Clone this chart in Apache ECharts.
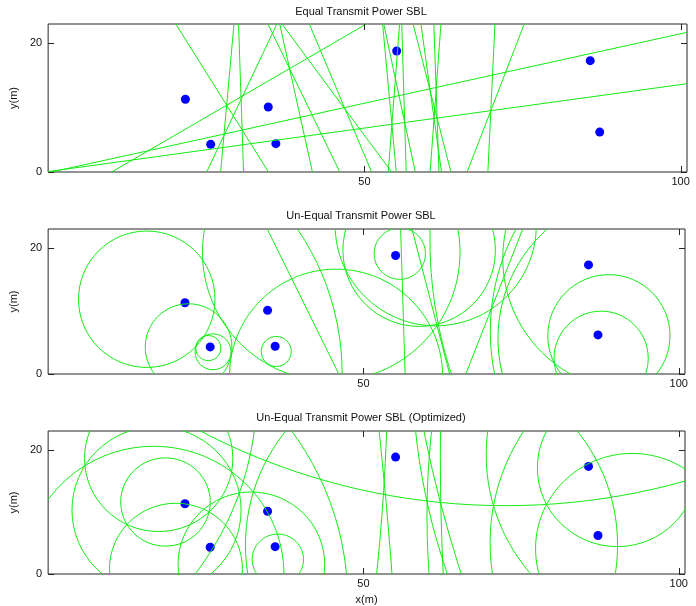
<!DOCTYPE html>
<html>
<head>
<meta charset="utf-8">
<script src="https://cdn.jsdelivr.net/npm/echarts/dist/echarts.min.js"></script>
<style>
  html, body { margin: 0; padding: 0; background: #ffffff; }
  #chart { width: 696px; height: 606px; }
</style>
</head>
<body>
<div id="chart"></div>
<script>
// ---- reference nodes (blue dots), same in all three panels ----
const nodeX = [21.7, 25.7, 34.8, 36.0, 55.1, 85.7, 87.2];
const nodeY = [11.3, 4.3, 10.1, 4.4, 18.8, 17.3, 6.2];

// ---- panel 1: Equal Transmit Power SBL (straight bisector lines) ----
const eqFromX = [10.05, 27.27, 25.06, 41.78, 55.04, 53.77, 34.84, 30.9, 46.1, 58.04, 56.61, 0.5, 51.14, 62.19, 60.39, 54.3, 63.67, 61.79, 69.52, 66.24, 0];
const eqFromY = [0, 0, 0, 0, 0, 0, 0, 0, 0, 0, 0, 0, 0, 0, 0, 0, 0, 0, 0, 0, 0.07];
const eqToX   = [50.3, 29.38, 36.16, 36.61, 52.88, 55.56, 20.18, 30.1, 34.75, 53.06, 55.9, 101, 41.29, 58.93, 62.1, 36.96, 57.7, 60.98, 70.64, 75.27, 101];
const eqToY   = [23, 23, 23, 23, 23, 23, 23, 23, 23, 23, 23, 21.7, 23, 23, 23, 23, 23, 23, 23, 23, 13.72];

// ---- panel 2: Un-Equal Transmit Power SBL (circles: centre x, centre y, radius) ----
const uneqCx = [26.15, 15.64, 45.66, 58.84, 128.92, 94.54, 25.40, 22.27, 5.70, 36.18, 55.77, 93.14, 88.93, 61.47, 104.27, 44.90, 87.70];
const uneqCy = [3.52, 11.86, -0.26, 19.64, 21.35, 5.63, 4.11, 4.27, -0.03, 3.57, 19.09, 18.35, 6.07, 23.60, 6.80, 19.30, 2.50];
const uneqR  = [2.85, 10.82, 16.89, 12.09, 68.37, 23.20, 1.99, 6.87, 40.93, 2.38, 4.07, 21.04, 9.69, 15.95, 34.15, 20.42, 7.47];
// near-straight loci in panel 2
const uneqLineFromX = [46.1, 56.61, 63.67, 66.24];
const uneqLineFromY = [0, 0, 0, 0];
const uneqLineToX   = [34.75, 55.9, 57.7, 75.27];
const uneqLineToY   = [23, 23, 23, 23];

// ---- panel 3: Un-Equal Transmit Power SBL (Optimized) (circles) ----
const optCx = [17.53, 18.61, -15.45, 17.19, -698.3, -285.6, 20.27, 60.8, 16.75, 160.68, 187.08, 36.43, 1.10, 99.04, 102.97, 32.23, 268.45, 449.2, 90.26, 92.62, 72.57];
const optCy = [18.59, 11.58, 29.23, 10.29, -56.2, 35.23, 0.84, 4.64, -0.11, 33.55, 9.29, 2.35, -4.34, 19.19, 5.03, 1.56, 64.73, 18.93, 17.08, 4.07, 114.49];
const optR  = [11.76, 7.10, 48.55, 13.41, 754.9, 339.5, 10.54, 29.51, 20.65, 102.94, 127.0, 4.07, 46.42, 29.57, 32.88, 11.63, 212.95, 387.0, 12.67, 15.32, 103.5];

// ---- text / ticks ----
const titles = ['Equal Transmit Power SBL', 'Un-Equal Transmit Power SBL', 'Un-Equal Transmit Power SBL (Optimized)'];
const xTickLabels = [50, 100];
const yTickLabels = [0, 20];

// ---- styling ----
const GREEN = '#14ec14';
const BLUE = '#0000ff';
const FRAME = '#262626';
const FONT = "'Liberation Sans', Arial, Helvetica, sans-serif";
const TICK_LEN = 6;

const grids = [
  { left: 46, top: 24, width: 641, height: 148 },
  { left: 48, top: 229, width: 637, height: 145 },
  { left: 48, top: 431, width: 637, height: 145 }
];
const titleY = [12, 216, 418];
const yNameGap = [24, 25, 25];

const xAxes = [], yAxes = [];
grids.forEach((g, i) => {
  xAxes.push({
    gridIndex: i, type: 'value', position: 'bottom', min: 0, max: 101, interval: 50,
    splitLine: { show: false }, axisLine: { show: false }, axisTick: { show: false },
    axisLabel: { fontSize: 11, color: '#111', fontFamily: FONT, margin: 4, showMaxLabel: false,
      formatter: v => (xTickLabels.indexOf(v) >= 0 ? String(v) : '') },
    name: i === 2 ? 'x(m)' : '', nameLocation: 'middle', nameGap: 20,
    nameTextStyle: { fontSize: 11, color: '#111', fontFamily: FONT }
  });
  yAxes.push({
    gridIndex: i, type: 'value', position: 'left', min: 0, max: 23, interval: 20,
    splitLine: { show: false }, axisLine: { show: false }, axisTick: { show: false },
    axisLabel: { fontSize: 11, color: '#111', fontFamily: FONT, margin: 6, showMaxLabel: false,
      formatter: v => (yTickLabels.indexOf(v) >= 0 ? String(v) : '') },
    name: 'y(m)', nameLocation: 'middle', nameGap: yNameGap[i],
    nameTextStyle: { fontSize: 11, color: '#111', fontFamily: FONT }
  });
});

// inward tick marks on all four sides, placed through the axis scales
function tickSeries(gi) {
  const data = xTickLabels.map(v => [v, 0]).concat(yTickLabels.map(v => [v, 1]));
  return {
    type: 'custom', xAxisIndex: gi, yAxisIndex: gi, clip: false, silent: true, z: 5,
    data: data,
    renderItem: function (params, api) {
      const cs = params.coordSys;
      const v = api.value(0), kind = api.value(1);
      const st = { stroke: FRAME, lineWidth: 1 };
      if (kind === 0) {
        const px = Math.round(api.coord([v, 0])[0]) + 0.5;
        return { type: 'group', children: [
          { type: 'line', shape: { x1: px, y1: cs.y + cs.height, x2: px, y2: cs.y + cs.height - TICK_LEN }, style: st },
          { type: 'line', shape: { x1: px, y1: cs.y, x2: px, y2: cs.y + TICK_LEN }, style: st }
        ] };
      }
      const py = Math.round(api.coord([0, v])[1]) + 0.5;
      return { type: 'group', children: [
        { type: 'line', shape: { x1: cs.x, y1: py, x2: cs.x + TICK_LEN, y2: py }, style: st },
        { type: 'line', shape: { x1: cs.x + cs.width, y1: py, x2: cs.x + cs.width - TICK_LEN, y2: py }, style: st }
      ] };
    }
  };
}

function lineSeries(gi, fx, fy, tx, ty) {
  return {
    type: 'custom', xAxisIndex: gi, yAxisIndex: gi, clip: true, silent: true, z: 3,
    data: fx.map((v, i) => [v, fy[i], tx[i], ty[i]]),
    renderItem: function (params, api) {
      const p0 = api.coord([api.value(0), api.value(1)]);
      const p1 = api.coord([api.value(2), api.value(3)]);
      return { type: 'line', shape: { x1: p0[0], y1: p0[1], x2: p1[0], y2: p1[1] },
        style: { stroke: GREEN, lineWidth: 1, fill: null } };
    }
  };
}
function circleSeries(gi, cx, cy, r) {
  return {
    type: 'custom', xAxisIndex: gi, yAxisIndex: gi, clip: true, silent: true, z: 3,
    data: cx.map((v, i) => [v, cy[i], r[i]]),
    renderItem: function (params, api) {
      const c = api.coord([api.value(0), api.value(1)]);
      const s = api.size([api.value(2), api.value(2)]);
      return { type: 'ellipse', shape: { cx: c[0], cy: c[1], rx: s[0], ry: s[1] },
        style: { stroke: GREEN, lineWidth: 1, fill: null } };
    }
  };
}
function dotSeries(gi) {
  return {
    type: 'scatter', xAxisIndex: gi, yAxisIndex: gi, silent: true, z: 2,
    symbol: 'circle', symbolSize: 9, itemStyle: { color: BLUE, opacity: 1 },
    data: nodeX.map((v, i) => [v, nodeY[i]])
  };
}

const option = {
  animation: false,
  backgroundColor: '#ffffff',
  grid: grids.map(g => Object.assign({ show: true, borderColor: FRAME, borderWidth: 1, containLabel: false }, g)),
  xAxis: xAxes,
  yAxis: yAxes,
  graphic: titles.map((t, i) => ({
    type: 'text', x: 361, y: titleY[i], silent: true,
    style: { text: t, textAlign: 'center', textVerticalAlign: 'middle', fontSize: 11, fontFamily: FONT, fill: '#111' }
  })),
  series: [
    dotSeries(0), dotSeries(1), dotSeries(2),
    lineSeries(0, eqFromX, eqFromY, eqToX, eqToY),
    circleSeries(1, uneqCx, uneqCy, uneqR),
    lineSeries(1, uneqLineFromX, uneqLineFromY, uneqLineToX, uneqLineToY),
    circleSeries(2, optCx, optCy, optR),
    tickSeries(0), tickSeries(1), tickSeries(2)
  ]
};

const chart = echarts.init(document.getElementById('chart'), null, { renderer: 'canvas' });
chart.setOption(option);
</script>
</body>
</html>
